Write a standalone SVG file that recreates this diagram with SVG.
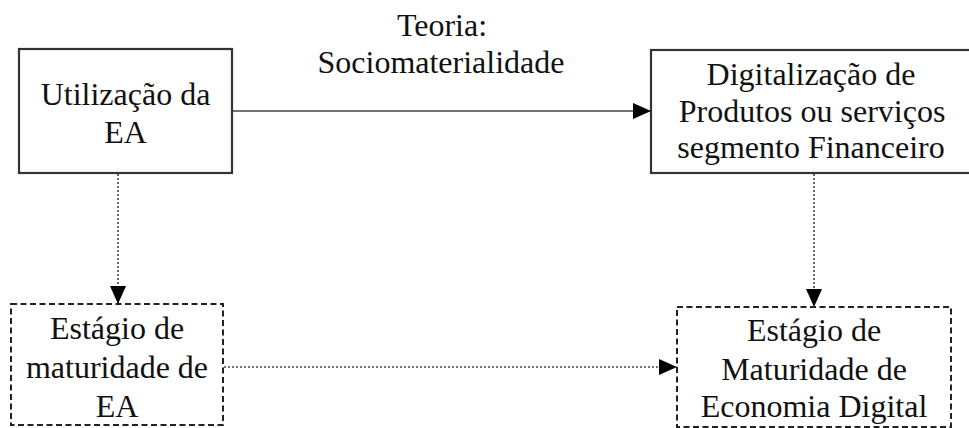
<svg xmlns="http://www.w3.org/2000/svg" width="969" height="428" viewBox="0 0 969 428">
<style>
text{font-family:"Liberation Serif","Times New Roman",serif;font-size:32px;fill:#111;text-anchor:middle}
.solid{fill:#fff;stroke:#333;stroke-width:2.2}
.dash{fill:#fff;stroke:#222;stroke-width:2;stroke-dasharray:6 3.5}
.c{fill:none;stroke:#444;stroke-width:1.6}
.dot{stroke-dasharray:2 2}
</style>
<defs>
<marker id="ah" viewBox="0 0 18 16" refX="18" refY="8" markerWidth="18" markerHeight="16" markerUnits="userSpaceOnUse" orient="auto">
<path d="M0,0 L18,8 L0,16 Z" fill="#000"/>
</marker>
</defs>
<rect width="969" height="428" fill="#fff"/>
<g id="title">
<text x="442" y="36">Teoria:</text>
<text x="441" y="73">Sociomaterialidade</text>
</g>
<g id="connectors">
<line class="c" x1="232" y1="111" x2="651" y2="111" marker-end="url(#ah)"/>
<line class="c dot" x1="118" y1="174" x2="118" y2="304" marker-end="url(#ah)"/>
<line class="c dot" x1="814" y1="174" x2="814" y2="307" marker-end="url(#ah)"/>
<line class="c dot" x1="224" y1="367" x2="677" y2="367" marker-end="url(#ah)"/>
</g>
<g id="n1">
<rect class="solid" x="19" y="49" width="213" height="124"/>
<text x="125.5" y="105">Utilização da</text>
<text x="125.5" y="143">EA</text>
</g>
<g id="n2">
<rect class="solid" x="651" y="50" width="320" height="123"/>
<text x="811" y="85">Digitalização de</text>
<text x="812" y="122">Produtos ou serviços</text>
<text x="811" y="158">segmento Financeiro</text>
</g>
<g id="n3">
<rect class="dash" x="11" y="304" width="212" height="121"/>
<text x="117" y="339">Estágio de</text>
<text x="117" y="378">maturidade de</text>
<text x="117" y="417">EA</text>
</g>
<g id="n4">
<rect class="dash" x="677" y="307" width="274" height="120"/>
<text x="814" y="341">Estágio de</text>
<text x="814" y="380">Maturidade de</text>
<text x="814" y="417">Economia Digital</text>
</g>
</svg>
